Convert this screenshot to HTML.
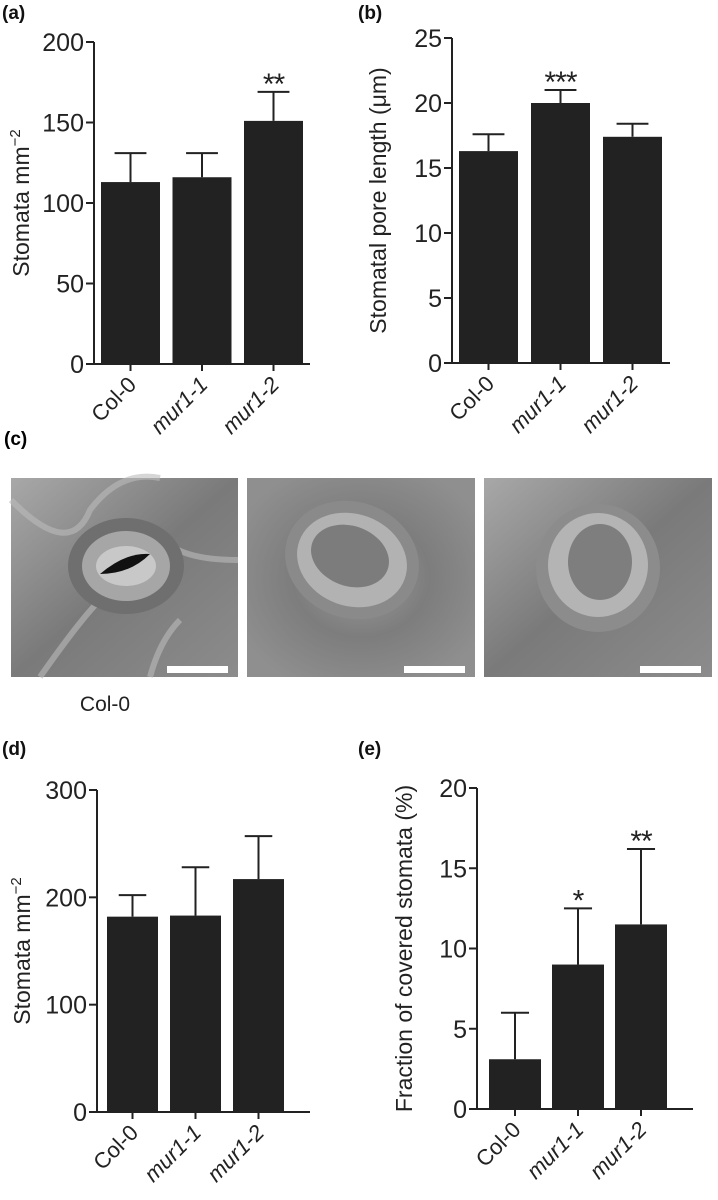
<!DOCTYPE html>
<html><head><meta charset="utf-8"><style>
html,body{margin:0;padding:0;background:#fff;}
svg{display:block;font-family:"Liberation Sans",Arial,sans-serif;}
</style></head><body>
<svg id="fig" width="718" height="1200" viewBox="0 0 718 1200">
<defs>
<radialGradient id="g1" cx="50%" cy="50%" r="60%"><stop offset="0" stop-color="#9a9a9a"/><stop offset="0.5" stop-color="#7d7d7d"/><stop offset="1" stop-color="#8f8f8f"/></radialGradient>
<linearGradient id="g2" x1="0" y1="0" x2="1" y2="1"><stop offset="0" stop-color="#a8a8a8"/><stop offset="0.5" stop-color="#7a7a7a"/><stop offset="1" stop-color="#8c8c8c"/></linearGradient>
</defs>
<g id="micro">
<text x="4" y="445" font-size="19" font-weight="bold">(c)</text>
<g>
<rect x="11" y="478" width="227" height="199" fill="url(#g2)"/>
<path d="M11 500 Q70 560 90 510 Q120 470 160 478 M40 677 Q80 620 100 600 M238 560 Q190 560 170 545 M150 677 Q160 640 180 620" stroke="#bbb" stroke-width="6" fill="none" opacity="0.6"/>
<ellipse cx="126" cy="566" rx="58" ry="48" fill="#6f6f6f"/>
<ellipse cx="126" cy="566" rx="44" ry="35" fill="#a6a6a6"/>
<ellipse cx="126" cy="566" rx="30" ry="20" fill="#c8c8c8"/>
<path d="M100 574 Q126 552 150 554 Q130 574 100 574Z" fill="#111"/>
<rect x="167" y="666" width="61" height="7" fill="#fff"/>
</g>
<g>
<rect x="247" y="478" width="228" height="199" fill="url(#g1)"/>
<ellipse cx="352" cy="560" rx="68" ry="58" fill="#8a8a8a" transform="rotate(20 352 560)"/>
<ellipse cx="352" cy="560" rx="56" ry="46" fill="#b2b2b2" transform="rotate(20 352 560)"/>
<ellipse cx="350" cy="556" rx="40" ry="30" fill="#7c7c7c" transform="rotate(20 350 556)"/>
<rect x="404" y="666" width="61" height="7" fill="#fff"/>
</g>
<g>
<rect x="484" y="478" width="228" height="199" fill="url(#g2)"/>
<ellipse cx="598" cy="568" rx="62" ry="64" fill="#8c8c8c"/>
<ellipse cx="598" cy="565" rx="50" ry="52" fill="#b4b4b4"/>
<ellipse cx="600" cy="562" rx="32" ry="38" fill="#7e7e7e"/>
<rect x="640" y="666" width="61" height="7" fill="#fff"/>
</g>
<text x="105" y="711" font-size="21" text-anchor="middle" fill="#222">Col-0</text>
</g>
</svg>
<script>
const categories = ["Col-0", "mur1-1", "mur1-2"];
const aValues = [113, 116, 151];
const aErrors = [131, 131, 169];
const aStars = ["", "", "**"];
const aTicks = [0, 50, 100, 150, 200];
const bValues = [16.3, 20, 17.4];
const bErrors = [17.6, 21, 18.4];
const bStars = ["", "***", ""];
const bTicks = [0, 5, 10, 15, 20, 25];
const dValues = [182, 183, 217];
const dErrors = [202, 228, 257];
const dStars = ["", "", ""];
const dTicks = [0, 100, 200, 300];
const eValues = [3.1, 9, 11.5];
const eErrors = [6, 12.5, 16.2];
const eStars = ["", "*", "**"];
const eTicks = [0, 5, 10, 15, 20];

const NS = "http://www.w3.org/2000/svg";
const svg = document.getElementById("fig");
function mk(tag, attrs, parent) {
  const e = document.createElementNS(NS, tag);
  for (const k in attrs) e.setAttribute(k, attrs[k]);
  (parent || svg).appendChild(e);
  return e;
}
function panel(cfg) {
  const g = mk("g", {});
  
  
  const max = cfg.ticks[cfg.ticks.length - 1];
  const y = v => cfg.y0 - (v / max) * (cfg.y0 - cfg.yTop);
  const x = i => cfg.ax + cfg.pad + i * cfg.step;
  const lbl = mk("text", {x: cfg.labelX, y: cfg.labelY, "font-size": 19, "font-weight": "bold", fill: "#111"}, g);
  lbl.textContent = "(" + cfg.id + ")";
  
  
  cfg.values.forEach((v, i) => {
    const bx = x(i);
    const cx = bx + cfg.bw / 2;
    const eb = mk("path", {d: `M${cx} ${y(v)} V${y(cfg.errors[i])} M${cx - cfg.bw * 0.27} ${y(cfg.errors[i])} H${cx + cfg.bw * 0.27}`, stroke: "#222", "stroke-width": 2, fill: "none"}, g);
    
    
    const r = mk("rect", {x: bx, y: y(v), width: cfg.bw, height: cfg.y0 - y(v), fill: "#222"}, g);
    
    
    if (cfg.stars[i]) {
      const s = mk("text", {x: cx, y: y(cfg.errors[i]) + 2, "font-size": 30, "text-anchor": "middle", fill: "#222", "letter-spacing": "-1"}, g);
      s.textContent = cfg.stars[i];
      
      
    }
    const tk = mk("line", {x1: cx, x2: cx, y1: cfg.y0, y2: cfg.y0 + 7, stroke: "#222", "stroke-width": 2}, g);
    
    
    const t = mk("text", {x: cx + 7, y: cfg.y0 + 22, "font-size": 22, "text-anchor": "end", fill: "#222", transform: `rotate(-45 ${cx + 7} ${cfg.y0 + 22})`, "font-style": i > 0 ? "italic" : "normal"}, g);
    t.textContent = categories[i];
    
    
  });
  const ya = mk("line", {x1: cfg.ax, x2: cfg.ax, y1: cfg.yTop, y2: cfg.y0 + 1, stroke: "#222", "stroke-width": 2}, g);
  
  
  const xa = mk("line", {x1: cfg.ax - 8, x2: cfg.xEnd, y1: cfg.y0, y2: cfg.y0, stroke: "#222", "stroke-width": 2}, g);
  
  
  cfg.ticks.forEach(tv => {
    const l = mk("line", {x1: cfg.ax - 8, x2: cfg.ax, y1: y(tv), y2: y(tv), stroke: "#222", "stroke-width": 2}, g);
    
    
    const t = mk("text", {x: cfg.ax - 10, y: y(tv) + 9, "font-size": 25, "text-anchor": "end", fill: "#222"}, g);
    t.textContent = tv;
    
    
  });
  const cy = (cfg.y0 + cfg.yTop) / 2;
  const tt = mk("text", {x: cfg.titleX, y: cy, "font-size": 23, "text-anchor": "middle", fill: "#222", transform: `rotate(-90 ${cfg.titleX} ${cy})`}, g);
  tt.innerHTML = cfg.title;
  
  
}
panel({id: "a", values: aValues, errors: aErrors, stars: aStars, ticks: aTicks, ax: 94, yTop: 42, y0: 364, xEnd: 310, pad: 7, step: 71.5, bw: 59, labelX: 2, labelY: 19, titleX: 29, title: 'Stomata mm<tspan dy="-9" font-size="15">−2</tspan>'});
panel({id: "b", values: bValues, errors: bErrors, stars: bStars, ticks: bTicks, ax: 452, yTop: 38, y0: 363, xEnd: 670, pad: 7, step: 72, bw: 59, labelX: 358, labelY: 19, titleX: 386, title: 'Stomatal pore length (μm)'});
panel({id: "d", values: dValues, errors: dErrors, stars: dStars, ticks: dTicks, ax: 97, yTop: 790, y0: 1112, xEnd: 310, pad: 10, step: 63, bw: 51, labelX: 2, labelY: 755, titleX: 30, title: 'Stomata mm<tspan dy="-9" font-size="15">−2</tspan>'});
panel({id: "e", values: eValues, errors: eErrors, stars: eStars, ticks: eTicks, ax: 477, yTop: 788, y0: 1109, xEnd: 693, pad: 12, step: 63, bw: 52, labelX: 358, labelY: 755, titleX: 412, title: 'Fraction of covered stomata (%)'});
</script>
</body></html>
